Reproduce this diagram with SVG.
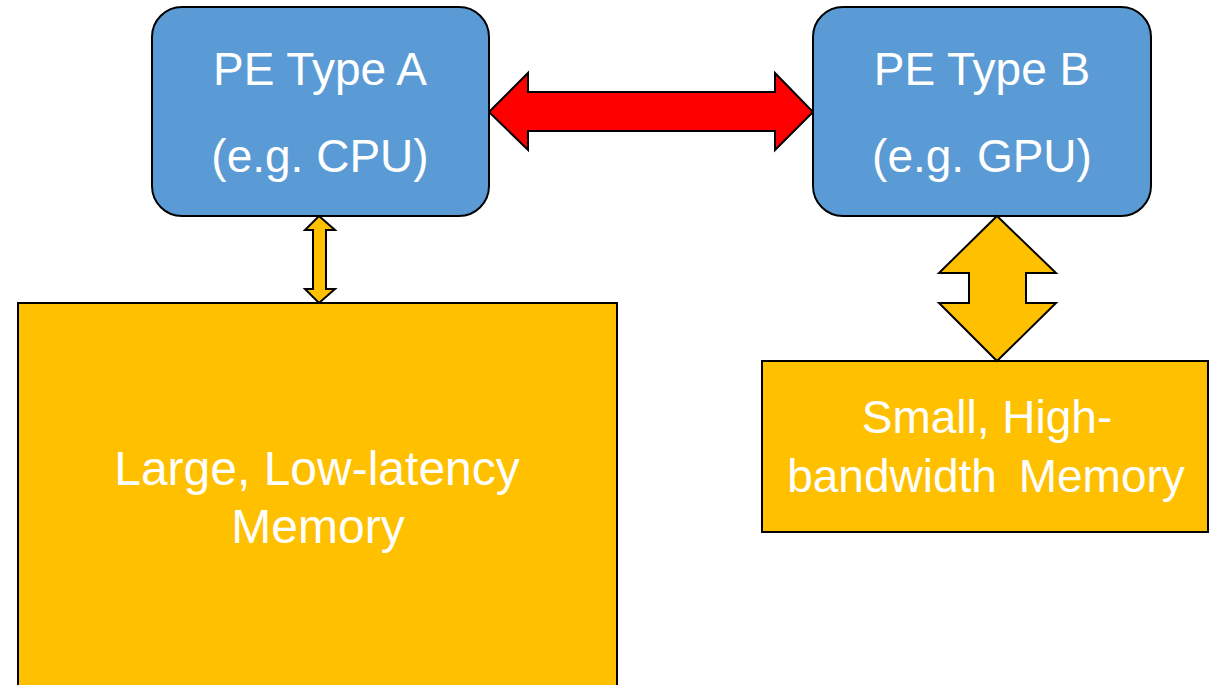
<svg xmlns="http://www.w3.org/2000/svg" width="1216" height="685" viewBox="0 0 1216 685">
  <style>
    .pe { fill: #5B9BD5; stroke: #000; stroke-width: 2; }
    .mem { fill: #FFC000; stroke: #000; stroke-width: 2; }
    .link { stroke: #000; stroke-width: 2; stroke-linejoin: miter; }
    .bus { fill: #FF0000; }
    .port { fill: #FFC000; }
    .label { font-family: "Liberation Sans", Arial, sans-serif; font-size: 46px; fill: #FFFFFF; text-anchor: middle; }
    .label.big { font-size: 48px; }
  </style>
  <rect width="1216" height="685" fill="#FFFFFF"/>

  <g id="pe-a">
    <rect class="pe" x="152" y="7" width="337" height="209" rx="30" ry="30"/>
    <text class="label" x="320" y="85">PE Type A</text>
    <text class="label" x="320" y="172">(e.g. CPU)</text>
  </g>

  <g id="pe-b">
    <rect class="pe" x="813" y="7" width="338" height="209" rx="30" ry="30"/>
    <text class="label" x="982" y="85">PE Type B</text>
    <text class="label" x="982" y="172">(e.g. GPU)</text>
  </g>

  <g id="mem-large">
    <rect class="mem" x="18" y="303" width="599" height="400"/>
    <text class="label big" x="317" y="485">Large, Low-latency</text>
    <text class="label big" x="318" y="543">Memory</text>
  </g>

  <g id="mem-small">
    <rect class="mem" x="762" y="361" width="446" height="171"/>
    <text class="label" x="987" y="433">Small, High-</text>
    <text class="label" x="986" y="492" word-spacing="9">bandwidth Memory</text>
  </g>

  <g id="connectors">
    <!-- interconnect between the two processing elements -->
    <polygon class="link bus" points="489,112 528,73 528,92 775,92 775,73 813,112 775,150 775,131 528,131 528,150"/>
    <!-- narrow path from PE A to its memory -->
    <polygon class="link port" points="319,216 335,230 326,230 326,289 335,289 319,303 305,289 313,289 313,230 305,230"/>
    <!-- wide path from PE B to its memory -->
    <polygon class="link port" points="997,216 1056,273 1026,273 1026,303 1056,303 997,361 939,303 969,303 969,273 939,273"/>
  </g>
</svg>
